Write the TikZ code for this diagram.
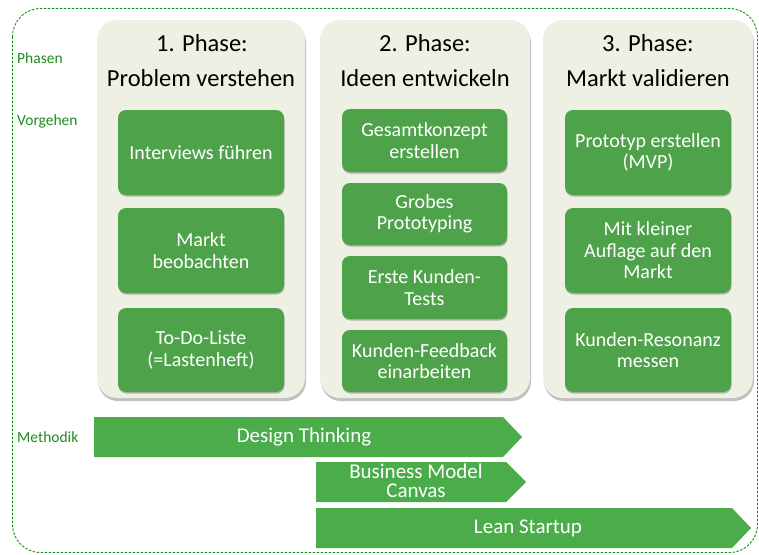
\documentclass[tikz,border=0pt]{standalone}
\usepackage{fontspec}
\setmainfont{Carlito}
\usetikzlibrary{shadows}
\definecolor{panelfill}{RGB}{238,240,228}
\definecolor{boxgreen}{RGB}{78,163,74}
\definecolor{arrowgreen}{RGB}{74,173,74}
\definecolor{labelgreen}{RGB}{30,140,30}
\definecolor{dashgreen}{RGB}{20,150,20}
\begin{document}
\begin{tikzpicture}[x=1pt,y=-1pt,
  panel/.style={fill=panelfill, rounded corners=20pt, inner sep=0pt,
    minimum height=378pt, drop shadow={shadow xshift=1pt, shadow yshift=-3pt, opacity=0.35, fill=black!70}},
  ptitle/.style={font=\fontsize{24.5}{28}\selectfont, text=black, inner sep=0pt},
  gbox/.style={fill=boxgreen, rounded corners=8pt, inner sep=0pt, text=white, align=center,
    font=\fontsize{20}{21.5}\selectfont,
    drop shadow={shadow xshift=0.5pt, shadow yshift=-1.5pt, opacity=0.25, fill=black}},
  side/.style={font=\fontsize{15.5}{18}\selectfont, text=labelgreen, anchor=west, inner sep=0pt},
  arr/.style={fill=arrowgreen, draw=none},
  arrtext/.style={font=\fontsize{21}{19}\selectfont, text=white, align=center, inner sep=0pt}
]
\useasboundingbox (0,0) rectangle (759,554);
\fill[white] (0,0) rectangle (759,554);
% outer dashed frame
\draw[dashgreen, line width=0.9pt, dash pattern=on 2.5pt off 1.5pt, rounded corners=28pt]
  (12.5,8.5) rectangle (757.5,552.5);
% side labels
\node[side] (lphasen) at (17,58) {Phasen};
\node[side] (lvorgehen) at (17,121) {Vorgehen};
\node[side] (lmethodik) at (17,437) {Methodik};
% panels
\node[panel, minimum width=208pt] (p1) at (201,209) {};
\node[panel, minimum width=210pt] (p2) at (425,209) {};
\node[panel, minimum width=210pt] (p3) at (648,209) {};
% titles
\node[ptitle] (t1a) at (202,43) {1. Phase:};
\node[ptitle] (t1b) at (201,78) {Problem verstehen};
\node[ptitle] (t2a) at (425,43) {2. Phase:};
\node[ptitle] (t2b) at (425,78) {Ideen entwickeln};
\node[ptitle] (t3a) at (648,43) {3. Phase:};
\node[ptitle] (t3b) at (648,78) {Markt validieren};
% phase 1 boxes
\node[gbox, minimum width=166pt, minimum height=85pt] (b11) at (201,152.5) {Interviews führen};
\node[gbox, minimum width=166pt, minimum height=85pt] (b12) at (201,250.5) {Markt\\beobachten};
\node[gbox, minimum width=166pt, minimum height=84pt] (b13) at (201,350) {To-Do-Liste\\(=Lastenheft)};
% phase 2 boxes
\node[gbox, minimum width=165pt, minimum height=63pt] (b21) at (424.5,140.5) {Gesamtkonzept\\erstellen};
\node[gbox, minimum width=165pt, minimum height=62pt] (b22) at (424.5,214) {Grobes\\Prototyping};
\node[gbox, minimum width=165pt, minimum height=63pt] (b23) at (424.5,287.5) {Erste Kunden-\\Tests};
\node[gbox, minimum width=165pt, minimum height=62pt] (b24) at (424.5,361) {Kunden-Feedback\\einarbeiten};
% phase 3 boxes
\node[gbox, minimum width=166pt, minimum height=85pt] (b31) at (648,152.5) {Prototyp erstellen\\(MVP)};
\node[gbox, minimum width=166pt, minimum height=85pt] (b32) at (648,250.5) {Mit kleiner\\Auflage auf den\\Markt};
\node[gbox, minimum width=166pt, minimum height=84pt] (b33) at (648,350) {Kunden-Resonanz\\messen};
% method arrows
\fill[arr] (94,417) -- (503,417) -- (522,437) -- (503,457) -- (94,457) -- cycle;
\node[arrtext] (dt) at (304,437) {Design Thinking};
\fill[arr] (316,462) -- (506,462) -- (526,482) -- (506,502) -- (316,502) -- cycle;
\node[arrtext] (bmc) at (416,481) {Business Model\\Canvas};
\fill[arr] (316,508) -- (732,508) -- (751,528) -- (732,548) -- (316,548) -- cycle;
\node[arrtext] (ls) at (528,528) {Lean Startup};
\end{tikzpicture}
\end{document}
